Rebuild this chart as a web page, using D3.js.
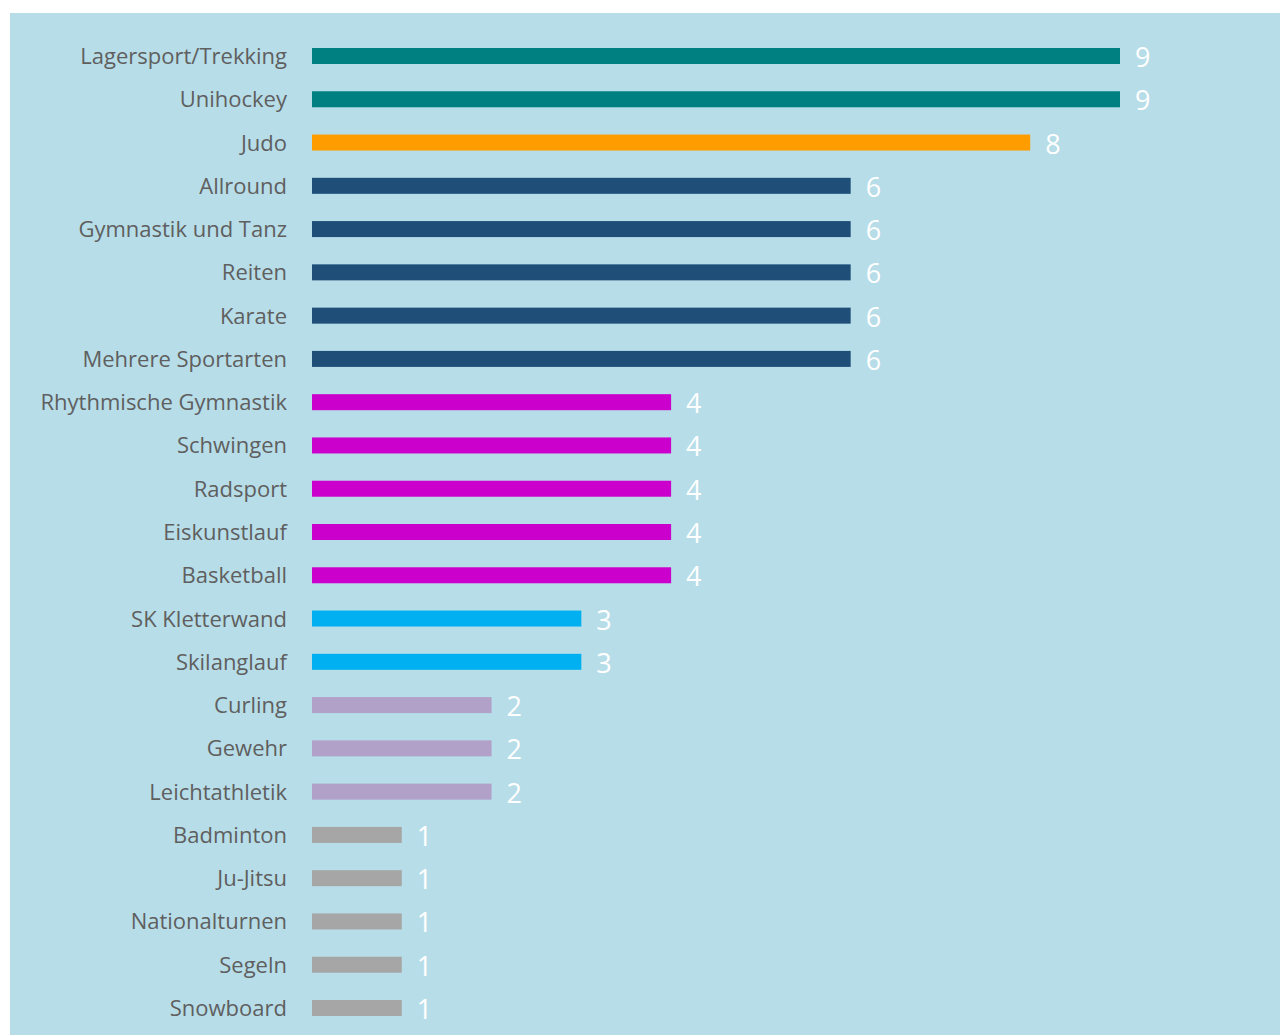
<!DOCTYPE html>
<html><head><meta charset="utf-8">
<script src="https://cdn.jsdelivr.net/npm/d3@7"></script>
<style>html,body{margin:0;padding:0;background:#fff;}</style>
</head><body>
<svg id="c" width="1280" height="1035"></svg>
<script>
const categories = ["Lagersport/Trekking","Unihockey","Judo","Allround","Gymnastik und Tanz","Reiten","Karate","Mehrere Sportarten","Rhythmische Gymnastik","Schwingen","Radsport","Eiskunstlauf","Basketball","SK Kletterwand","Skilanglauf","Curling","Gewehr","Leichtathletik","Badminton","Ju-Jitsu","Nationalturnen","Segeln","Snowboard"];
const values = [9,9,8,6,6,6,6,6,4,4,4,4,4,3,3,2,2,2,1,1,1,1,1];
const valueColors = {9:"#008080",8:"#ff9c00",6:"#1f4e79",4:"#cc00cc",3:"#00b0f0",2:"#b1a0c7",1:"#a6a6a6"};

const svg = d3.select("#c");
svg.append("rect").attr("x",10).attr("y",13).attr("width",1270).attr("height",1022).attr("fill","#b7dde8");

const x = d3.scaleLinear().domain([0,9]).range([312,1120]);
const step = (1008-56)/22;
const y = d3.scaleBand().domain(categories).range([56-step/2, 1008+step/2]).paddingInner(1-16/step).paddingOuter((1-16/step)/2);

const rows = svg.append("g").selectAll("g").data(categories).join("g");
rows.append("rect")
  .attr("x", x(0))
  .attr("y", d=>y(d))
  .attr("width", (d,i)=>x(values[i])-x(0))
  .attr("height", y.bandwidth())
  .attr("fill", (d,i)=>valueColors[values[i]]);
rows.append("text")
  .attr("x", 287)
  .attr("y", d=>y(d)+y.bandwidth()/2+8)
  .attr("text-anchor","end")
  .attr("font-family","'Open Sans', sans-serif")
  .attr("font-size",22)
  .attr("fill","#5f5f5f")
  .text(d=>d);
rows.append("text")
  .attr("x", (d,i)=>x(values[i])+15)
  .attr("y", d=>y(d)+y.bandwidth()/2+11)
  .attr("font-family","'Open Sans', sans-serif")
  .attr("font-size",27)
  .attr("fill","#ffffff")
  .text((d,i)=>values[i]);
</script>
</body></html>
